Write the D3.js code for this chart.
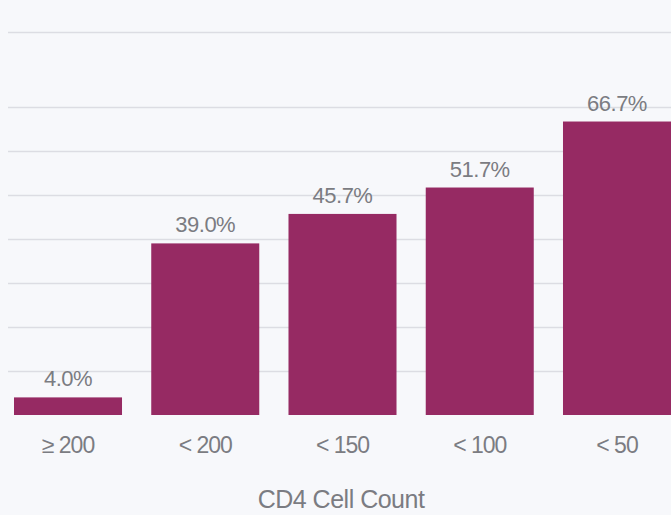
<!DOCTYPE html>
<html>
<head>
<meta charset="utf-8">
<script src="https://cdn.jsdelivr.net/npm/d3@7"></script>
<style>
  body { margin: 0; background: #f7f8fb; }
  svg { display: block; }
</style>
</head>
<body>
<div id="chart"></div>
<script>
// chart data
const categories = ["\u2265 200", "< 200", "< 150", "< 100", "< 50"];
const values = [4.0, 39.0, 45.7, 51.7, 66.7];
const gridTicks = [10, 20, 30, 40, 50, 60, 70];
const xTitle = "CD4 Cell Count";

const width = 671;
const height = 515;
const baseline = 415;

const svg = d3.select("#chart")
  .append("svg")
  .attr("width", width)
  .attr("height", height);

svg.append("rect")
  .attr("width", width)
  .attr("height", height)
  .attr("fill", "#f7f8fb");

let y = d3.scaleLinear()
  .domain([0, 70])
  .range([baseline, 107]);

let x = d3.scaleBand()
  .domain(categories)
  .range([14, 671])
  .paddingInner(0.213)
  .paddingOuter(0);

// gridlines
svg.append("g")
  .selectAll("line")
  .data(gridTicks)
  .join("line")
  .attr("x1", 8)
  .attr("x2", width)
  .attr("y1", d => y(d) + 0.5)
  .attr("y2", d => y(d) + 0.5)
  .attr("stroke", "#dcdde3")
  .attr("stroke-width", 1.5);

// top border line of the plot area
svg.append("line")
  .attr("x1", 8).attr("x2", width)
  .attr("y1", 32.5).attr("y2", 32.5)
  .attr("stroke", "#dcdde3")
  .attr("stroke-width", 1.5);

// bars
svg.selectAll(".bar")
  .data(values)
  .join("rect")
  .classed("bar", true)
  .attr("x", (d, i) => x(categories[i]))
  .attr("y", d => y(d))
  .attr("width", x.bandwidth())
  .attr("height", d => baseline - y(d))
  .attr("fill", "#962a63");

// value labels
svg.selectAll(".val")
  .data(values)
  .join("text")
  .classed("val", true)
  .attr("x", (d, i) => x(categories[i]) + x.bandwidth() / 2)
  .attr("y", d => y(d) - 11)
  .attr("text-anchor", "middle")
  .attr("font-family", "Liberation Sans, Arial, sans-serif")
  .attr("font-size", 22)
  .attr("letter-spacing", -0.5)
  .attr("fill", "#7b7c82")
  .text(d => d.toFixed(1) + "%");

// x axis labels
let xAxis = d3.axisBottom(x).tickSize(0).tickPadding(0);
const xg = svg.append("g")
  .attr("transform", `translate(0, ${baseline + 38})`)
  .call(xAxis);
xg.select(".domain").remove();
xg.selectAll("text")
  .attr("dy", 0)
  .attr("font-family", "Liberation Sans, Arial, sans-serif")
  .attr("font-size", 23)
  .attr("letter-spacing", -1)
  .attr("fill", "#7b7c82");

// x title
svg.append("text")
  .attr("x", 341)
  .attr("y", 508)
  .attr("text-anchor", "middle")
  .attr("font-family", "Liberation Sans, Arial, sans-serif")
  .attr("font-size", 25)
  .attr("letter-spacing", -0.5)
  .attr("fill", "#7b7c82")
  .text(xTitle);
</script>
</body>
</html>
